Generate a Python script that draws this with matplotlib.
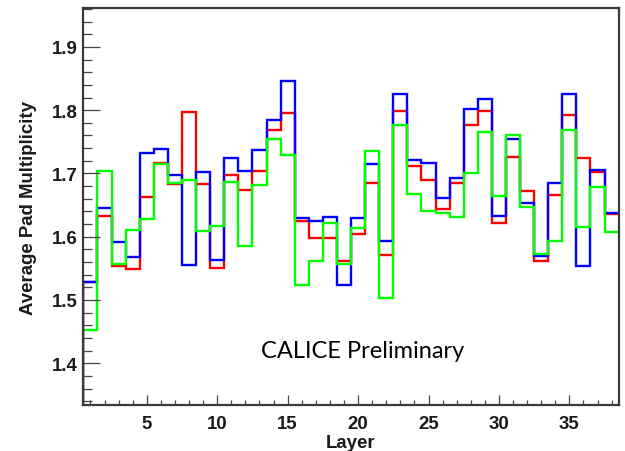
import numpy as np
import matplotlib
matplotlib.use("Agg")
import matplotlib.pyplot as plt
from matplotlib.ticker import MultipleLocator

layers = list(range(1, 39))

blue = [1.529, 1.645, 1.591, 1.568, 1.732, 1.738, 1.698, 1.556, 1.702, 1.563,
        1.724, 1.704, 1.737, 1.784, 1.846, 1.629, 1.625, 1.631, 1.523, 1.629,
        1.715, 1.593, 1.825, 1.721, 1.717, 1.661, 1.693, 1.802, 1.818, 1.633,
        1.755, 1.654, 1.570, 1.685, 1.825, 1.554, 1.705, 1.638]

red = [1.529, 1.633, 1.553, 1.549, 1.663, 1.717, 1.683, 1.797, 1.683, 1.551,
       1.698, 1.674, 1.704, 1.768, 1.795, 1.625, 1.598, 1.598, 1.561, 1.604,
       1.685, 1.571, 1.799, 1.711, 1.689, 1.643, 1.685, 1.777, 1.798, 1.621,
       1.726, 1.672, 1.561, 1.666, 1.792, 1.725, 1.703, 1.636]

green = [1.453, 1.704, 1.557, 1.610, 1.628, 1.715, 1.685, 1.690, 1.609, 1.617,
         1.687, 1.585, 1.682, 1.755, 1.729, 1.523, 1.561, 1.622, 1.557, 1.614,
         1.736, 1.503, 1.776, 1.668, 1.641, 1.637, 1.631, 1.701, 1.765, 1.665,
         1.760, 1.647, 1.572, 1.593, 1.768, 1.615, 1.678, 1.608]

xticks = [5, 10, 15, 20, 25, 30, 35]
yticks = [1.4, 1.5, 1.6, 1.7, 1.8, 1.9]

series = [("red", red), ("blue", blue), ("lime", green)]
ylim = (1.334, 1.961)
FS = 13.4
tfont = dict(family="Liberation Sans", weight="bold", size=FS, color="#1a1a1a")

fig = plt.figure(figsize=(6.25, 4.52), dpi=100)
ax = fig.add_axes([0.1323, 0.1018, 0.991 - 0.1323, 0.9794 - 0.1018])

edges = np.concatenate([np.array(layers) - 0.5, [layers[-1] + 0.5]])
for col, vals in series:
    p = ax.stairs(vals, edges, baseline=None, color=col, lw=1.7)
    p.set_joinstyle("miter")
    ax.plot([edges[0], edges[0]], [ylim[0], vals[0]], color=col, lw=1.7,
            solid_capstyle="butt")

ax.set_xlim(0.45, 38.55)
ax.set_ylim(*ylim)

ax.set_xticks(xticks)
ax.set_xticklabels([str(t) for t in xticks], **tfont)
ax.set_yticks(yticks)
ax.set_yticklabels([f"{t:.1f}" for t in yticks], **tfont)
ax.xaxis.set_minor_locator(MultipleLocator(1))
ax.yaxis.set_minor_locator(MultipleLocator(0.02))

ax.tick_params(axis="both", which="both", direction="in", top=False, right=False,
               width=0.9, color="#444444")
ax.tick_params(axis="y", which="major", length=12.2, pad=3.5)
ax.tick_params(axis="y", which="minor", length=6.5)
ax.tick_params(axis="x", which="major", length=7.2, pad=7)
ax.tick_params(axis="x", which="minor", length=3.6)

ax.set_xlabel("Layer", **tfont)
ax.set_ylabel("Average Pad Multiplicity", **tfont)
ax.xaxis.set_label_coords(0.5, -0.073)
ax.yaxis.set_label_coords(-0.086, 0.5)

for sp in ax.spines.values():
    sp.set_linewidth(1.6)
    sp.set_color("#3a3a3a")

ax.text(0.521, 0.121, "CALICE Preliminary", transform=ax.transAxes,
        ha="center", va="baseline", family=["Lato", "DejaVu Sans"], size=17,
        color="black")

fig.savefig("out.png", dpi=100)
